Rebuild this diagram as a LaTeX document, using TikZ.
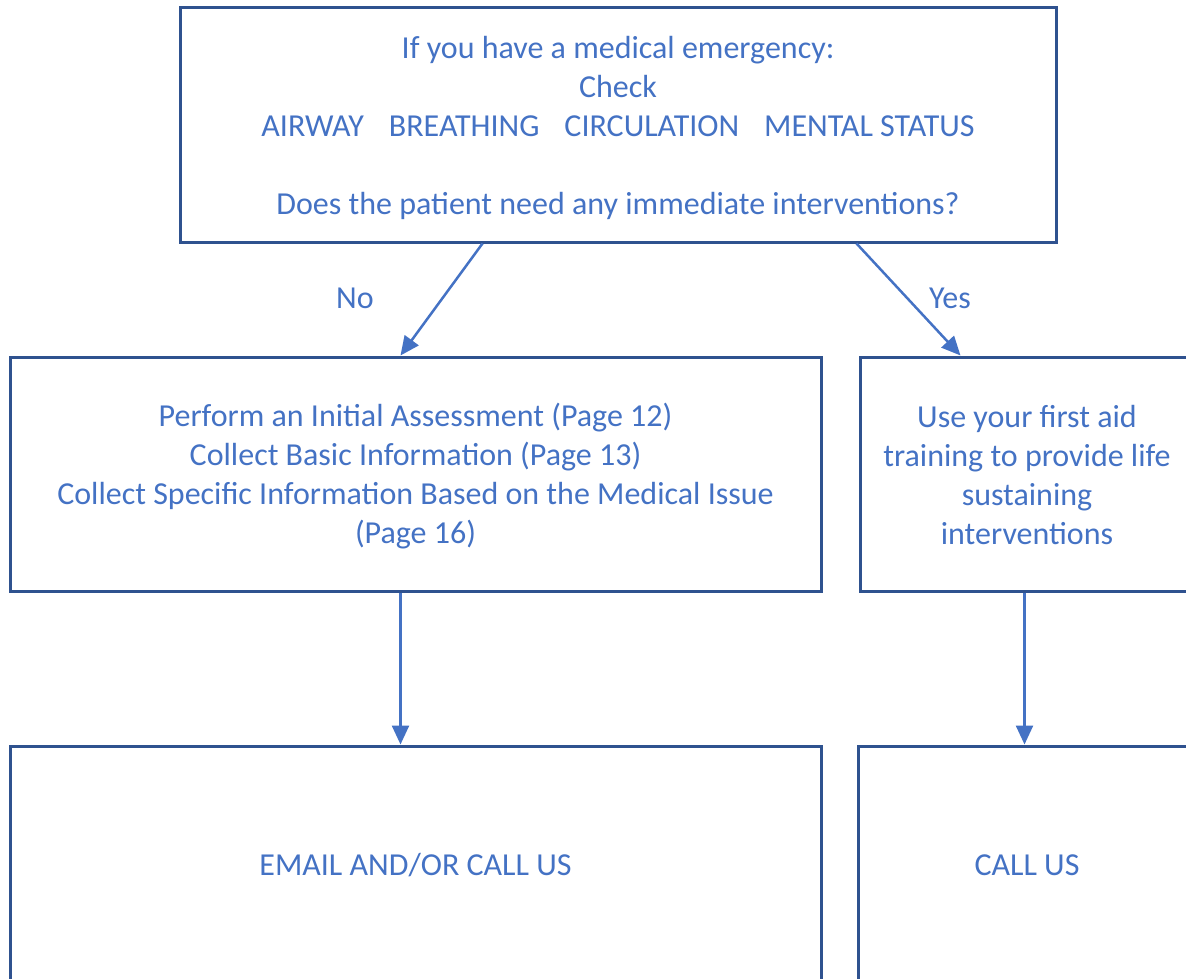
\documentclass[tikz,border=0pt]{standalone}
\usepackage{fontspec}
\setmainfont{Carlito}
\usetikzlibrary{arrows.meta}
\definecolor{boxblue}{HTML}{2F528F}
\definecolor{txtblue}{HTML}{4472C4}
\tikzset{
  box/.style={draw=boxblue, line width=3pt, rectangle, inner sep=0pt},
  txt/.style={align=center, text=txtblue, font=\fontsize{32}{39}\selectfont, inner sep=0pt},
  arr/.style={draw=txtblue, line width=2.5pt, -{Triangle[length=19pt,width=17pt]}},
  lbl/.style={text=txtblue, font=\fontsize{32}{39}\selectfont, inner sep=0pt}
}
\begin{document}
\begin{tikzpicture}[x=1pt,y=1pt]
\useasboundingbox (0,0) rectangle (1186,-979);
\clip (0,0) rectangle (1186,-979);
\node[box, minimum width=876pt, minimum height=234pt] (top) at (618,-125) {};
\node[box, minimum width=811pt, minimum height=234pt] (midl) at (415.5,-474) {};
\node[box, minimum width=334pt, minimum height=234pt] (midr) at (1027,-474) {};
\node[box, minimum width=811pt, minimum height=238pt] (botl) at (415.5,-865) {};
\node[box, minimum width=338pt, minimum height=238pt] (botr) at (1027,-865) {};
\node[txt] (toptext) at ([yshift=-3pt]top.center)
  {If you have a medical emergency:\\Check\\AIRWAY\hspace{25pt}BREATHING\hspace{25pt}CIRCULATION\hspace{25pt}MENTAL STATUS\\[39pt]Does the patient need any immediate interventions?};
\node[txt] (midltext) at ([yshift=-2pt]midl.center)
  {Perform an Initial Assessment (Page 12)\\Collect Basic Information (Page 13)\\Collect Specific Information Based on the Medical Issue\\(Page 16)};
\node[txt] (midrtext) at ([yshift=-1pt]midr.center)
  {Use your first aid\\training to provide life\\sustaining\\interventions};
\node[txt] (botltext) at (botl.center) {EMAIL AND/OR CALL US};
\node[txt] (botrtext) at (botr.center) {CALL US};
\node[lbl] (no) at (355,-298) {No};
\node[lbl] (yes) at (950,-298) {Yes};
\draw[arr] ([xshift=304pt]top.south west) -- ([xshift=392pt]midl.north west);
\draw[arr] ([xshift=678pt]top.south west) -- ([xshift=102pt]midr.north west);
\draw[arr] ([xshift=392pt]midl.south west) -- ([xshift=392pt]botl.north west);
\draw[arr] ([xshift=166pt]midr.south west) -- ([xshift=166pt]midr.south west |- botr.north);
\end{tikzpicture}
\end{document}
